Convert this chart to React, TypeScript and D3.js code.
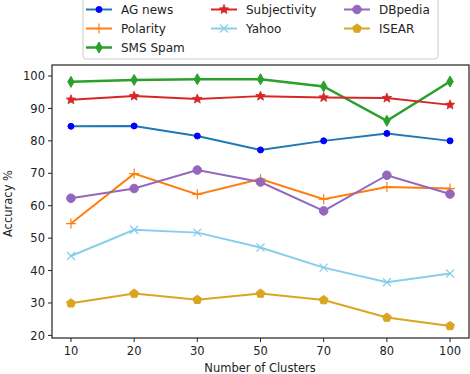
import React from "react";
import * as d3 from "d3";

const categories = ["10", "20", "30", "50", "70", "80", "100"];
const agNews = [84.5, 84.6, 81.5, 77.2, 80.0, 82.3, 80.0];
const polarity = [54.5, 69.9, 63.5, 68.2, 62.0, 65.8, 65.3];
const smsSpam = [98.2, 98.8, 99.0, 99.0, 96.8, 86.2, 98.3];
const subjectivity = [92.7, 93.8, 92.9, 93.8, 93.4, 93.2, 91.1];
const yahoo = [44.5, 52.6, 51.7, 47.1, 40.9, 36.4, 39.1];
const dbpedia = [62.3, 65.3, 71.0, 67.3, 58.4, 69.4, 63.6];
const isear = [29.9, 32.9, 31.0, 32.9, 30.9, 25.5, 22.9];
const yTicks = [20, 30, 40, 50, 60, 70, 80, 90, 100];

type Series = { name: string; values: number[]; color: string; mcolor: string; marker: string; lw: number };
const series: Series[] = [
  { name: "AG news", values: agNews, color: "#1f77b4", mcolor: "#0000ff", marker: "circle", lw: 2 },
  { name: "Polarity", values: polarity, color: "#ff7f0e", mcolor: "#ff7f0e", marker: "plus", lw: 2 },
  { name: "SMS Spam", values: smsSpam, color: "#2ca02c", mcolor: "#2ca02c", marker: "thin", lw: 2.5 },
  { name: "Subjectivity", values: subjectivity, color: "#d62728", mcolor: "#d62728", marker: "star", lw: 2 },
  { name: "Yahoo", values: yahoo, color: "#87ceeb", mcolor: "#87ceeb", marker: "x", lw: 2 },
  { name: "DBpedia", values: dbpedia, color: "#9467bd", mcolor: "#9467bd", marker: "bigcircle", lw: 2 },
  { name: "ISEAR", values: isear, color: "#daa520", mcolor: "#daa520", marker: "pentagon", lw: 2 },
];

const legendOrder = [
  ["AG news", 0, 0], ["Polarity", 0, 1], ["SMS Spam", 0, 2],
  ["Subjectivity", 1, 0], ["Yahoo", 1, 1],
  ["DBpedia", 2, 0], ["ISEAR", 2, 1],
] as const;

function Marker({ type, x, y, color }: { type: string; x: number; y: number; color: string }) {
  switch (type) {
    case "circle":
      return <circle cx={x} cy={y} r={3} fill={color} stroke={color} strokeWidth={1} />;
    case "bigcircle":
      return <circle cx={x} cy={y} r={4.3} fill={color} stroke={color} strokeWidth={1} />;
    case "plus":
      return <path d={`M${x - 5},${y}H${x + 5}M${x},${y - 5}V${y + 5}`} stroke={color} strokeWidth={1.2} fill="none" />;
    case "x":
      return <path d={`M${x - 4},${y - 4}L${x + 4},${y + 4}M${x - 4},${y + 4}L${x + 4},${y - 4}`} stroke={color} strokeWidth={1.2} fill="none" />;
    case "thin":
      return (
        <g>
          <path d={`M${x},${y - 5.5}L${x + 3.2},${y}L${x},${y + 5.5}L${x - 3.2},${y}Z`} fill={color} stroke={color} strokeWidth={1} />
        </g>
      );
    case "star": {
      const pts = d3.range(10).map((i) => {
        const r = i % 2 === 0 ? 5 : 2.2;
        const a = (Math.PI / 5) * i - Math.PI / 2;
        return [x + r * Math.cos(a), y + r * Math.sin(a)];
      });
      return <path d={"M" + pts.map((p) => p.join(",")).join("L") + "Z"} fill={color} stroke={color} strokeWidth={0.8} />;
    }
    case "pentagon": {
      const pts = d3.range(5).map((i) => {
        const a = ((2 * Math.PI) / 5) * i - Math.PI / 2;
        return [x + 4.6 * Math.cos(a), y + 4.6 * Math.sin(a)];
      });
      return <path d={"M" + pts.map((p) => p.join(",")).join("L") + "Z"} fill={color} stroke={color} strokeWidth={1} />;
    }
  }
  return null;
}

export default function App() {
  const W = 470, H = 374;
  const left = 52, right = 469, top = 65, bottom = 338;
  const x = d3.scalePoint<string>().domain(categories).range([left, right]).padding(0.5);
  // matplotlib 5% margins: padding so that first/last are 19px inside
  const step = (right - left) / (categories.length - 1 + 0.6);
  const xPos = (i: number) => left + step * 0.3 + i * step;
  const y = d3.scaleLinear().domain([19.2, 103.4]).range([bottom, top]);
  const line = d3.line<number>().x((_, i) => xPos(i)).y((v) => y(v));
  const font = "DejaVu Sans, sans-serif";
  void x;

  const legX = [86, 211, 344];
  const legY = [9.5, 28.5, 47.5];

  return (
    <svg width={W} height={H} style={{ position: "absolute", left: 0, top: 0, background: "#fff" }} fontFamily={font}>
      {/* ticks */}
      {yTicks.map((t) => (
        <g key={t}>
          <line x1={left - 4} x2={left} y1={y(t)} y2={y(t)} stroke="#222" strokeWidth={1} />
          <text x={left - 7} y={y(t)} dy="0.36em" textAnchor="end" fontSize={11.5} fill="#222">{t}</text>
        </g>
      ))}
      {categories.map((c, i) => (
        <g key={c}>
          <line x1={xPos(i)} x2={xPos(i)} y1={bottom} y2={bottom + 4} stroke="#222" strokeWidth={1} />
          <text x={xPos(i)} y={bottom + 17} textAnchor="middle" fontSize={11.5} fill="#222">{c}</text>
        </g>
      ))}
      <text x={260} y={372} textAnchor="middle" fontSize={11.5} fill="#222">Number of Clusters</text>
      <text transform={`translate(12,${(top + bottom) / 2 + 2}) rotate(-90)`} textAnchor="middle" fontSize={11.5} fill="#222">Accuracy %</text>

      {series.map((s) => (
        <g key={s.name}>
          <path d={line(s.values) || ""} fill="none" stroke={s.color} strokeWidth={s.lw} />
          {s.values.map((v, i) => (
            <Marker key={i} type={s.marker} x={xPos(i)} y={y(v)} color={s.mcolor} />
          ))}
        </g>
      ))}

      <rect x={left} y={top} width={right - left} height={bottom - top} fill="none" stroke="#222" strokeWidth={1.2} />

      {/* legend */}
      <rect x={83} y={-4} width={355} height={63} rx={3} fill="#fff" fillOpacity={0.85} stroke="#ccc" strokeWidth={1} />
      {legendOrder.map(([name, col, row]) => {
        const s = series.find((q) => q.name === name)!;
        const lx = legX[col], ly = legY[row];
        return (
          <g key={name}>
            <line x1={lx} x2={lx + 26} y1={ly} y2={ly} stroke={s.color} strokeWidth={s.lw} />
            <Marker type={s.marker} x={lx + 13} y={ly} color={s.mcolor} />
            <text x={lx + 35} y={ly} dy="0.36em" fontSize={12} fill="#222">{name}</text>
          </g>
        );
      })}
    </svg>
  );
}
